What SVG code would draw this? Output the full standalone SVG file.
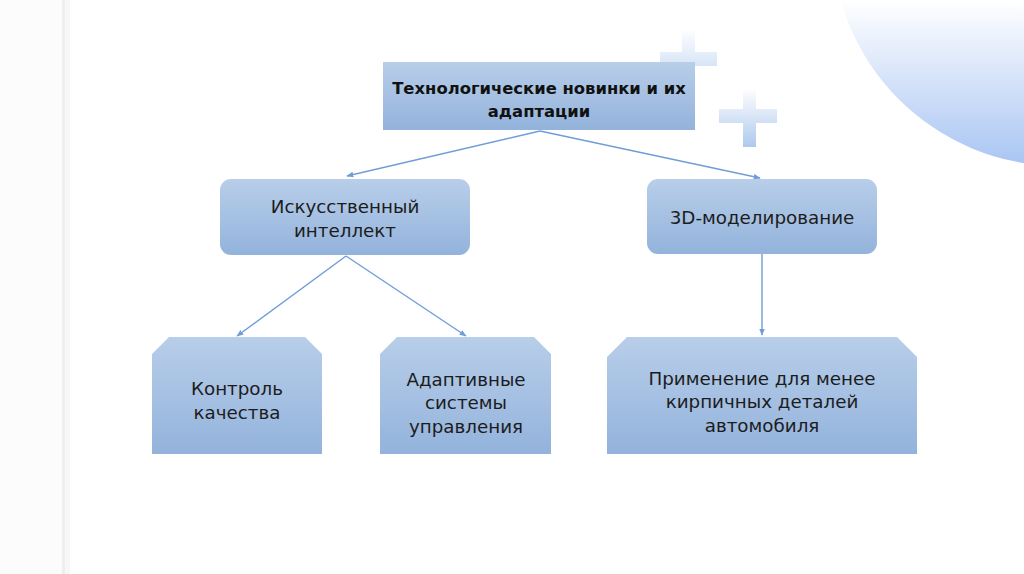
<svg xmlns="http://www.w3.org/2000/svg" width="1024" height="574" viewBox="0 0 1024 574">
<style>
.t{font-family:"DejaVu Sans","Liberation Sans",sans-serif;font-size:18.3px;fill:#1c1c1c;text-anchor:middle}
.tb{font-family:"DejaVu Sans","Liberation Sans",sans-serif;font-size:16.4px;font-weight:bold;fill:#111;text-anchor:middle}
.c{stroke:#6f9dd8;stroke-width:1.4;fill:none;marker-end:url(#ah)}
</style>
<defs>
<linearGradient id="bg" x1="0" y1="0" x2="0" y2="1">
<stop offset="0" stop-color="#b8cee9"/>
<stop offset="1" stop-color="#93b3dc"/>
</linearGradient>
<linearGradient id="circ" gradientUnits="userSpaceOnUse" x1="0" y1="0" x2="0" y2="166">
<stop offset="0" stop-color="#ffffff"/>
<stop offset="1" stop-color="#a8c5f2"/>
</linearGradient>
<linearGradient id="p1" gradientUnits="userSpaceOnUse" x1="0" y1="28" x2="0" y2="70">
<stop offset="0" stop-color="#ffffff"/>
<stop offset="1" stop-color="#d3e2f6"/>
</linearGradient>
<linearGradient id="p2" gradientUnits="userSpaceOnUse" x1="0" y1="88" x2="0" y2="148">
<stop offset="0" stop-color="#ffffff"/>
<stop offset="1" stop-color="#adc8ee"/>
</linearGradient>
<marker id="ah" viewBox="0 0 10 10" refX="9" refY="5" markerWidth="7" markerHeight="7" markerUnits="userSpaceOnUse" orient="auto">
<path d="M0,1 L10,5 L0,9 Z" fill="#6f9dd8"/>
</marker>
</defs>
<rect width="1024" height="574" fill="#ffffff"/>
<rect x="0" y="0" width="62" height="574" fill="#fcfcfc"/>
<rect x="62" y="0" width="3" height="574" fill="#efefef"/>
<rect x="65" y="0" width="5" height="574" fill="#f7f7f7"/>
<circle cx="1060" cy="-62" r="228" fill="url(#circ)"/>
<g id="plus1" fill="url(#p1)">
<rect x="682" y="30" width="13" height="50"/>
<rect x="660" y="52" width="57" height="14"/>
</g>
<g id="plus2" fill="url(#p2)">
<rect x="743" y="90" width="13" height="57"/>
<rect x="719" y="109" width="58" height="14"/>
</g>
<g id="connectors">
<line class="c" x1="540" y1="131" x2="347" y2="176"/>
<line class="c" x1="540" y1="131" x2="760" y2="178"/>
<line class="c" x1="346" y1="256" x2="237" y2="336"/>
<line class="c" x1="346" y1="256" x2="466" y2="336"/>
<line class="c" x1="762" y1="254" x2="762" y2="335"/>
</g>
<g id="n-root">
<rect x="383" y="62" width="312" height="68" fill="url(#bg)"/>
<text class="tb" x="539" y="94">Технологические новинки и их</text>
<text class="tb" x="539" y="117">адаптации</text>
</g>
<g id="n-ai">
<rect x="220" y="179" width="250" height="76" rx="11" fill="url(#bg)"/>
<text class="t" x="345" y="213">Искусственный</text>
<text class="t" x="345" y="237">интеллект</text>
</g>
<g id="n-3d">
<rect x="647" y="179" width="230" height="75" rx="11" fill="url(#bg)"/>
<text class="t" x="762" y="224">3D-моделирование</text>
</g>
<g id="n-qc">
<path d="M169,337 L305,337 L322,354 L322,454 L152,454 L152,354 Z" fill="url(#bg)"/>
<text class="t" x="237" y="395">Контроль</text>
<text class="t" x="237" y="419">качества</text>
</g>
<g id="n-acs">
<path d="M397,337 L534,337 L551,354 L551,454 L380,454 L380,354 Z" fill="url(#bg)"/>
<text class="t" x="466" y="386">Адаптивные</text>
<text class="t" x="466" y="409">системы</text>
<text class="t" x="466" y="433">управления</text>
</g>
<g id="n-app">
<path d="M627,337 L897,337 L917,357 L917,454 L607,454 L607,357 Z" fill="url(#bg)"/>
<text class="t" x="762" y="385">Применение для менее</text>
<text class="t" x="762" y="408">кирпичных деталей</text>
<text class="t" x="762" y="432">автомобиля</text>
</g>
</svg>
